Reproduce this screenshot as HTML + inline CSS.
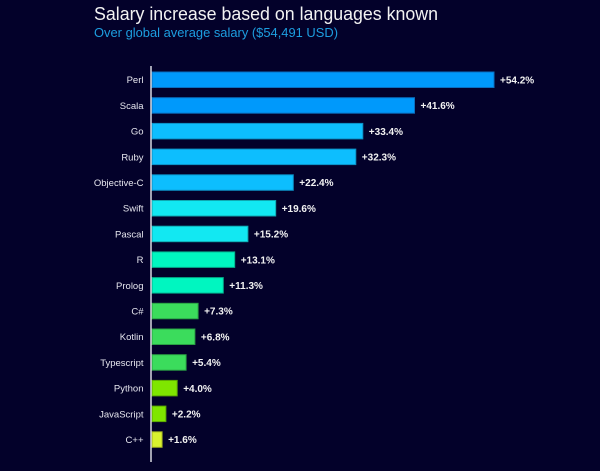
<!DOCTYPE html>
<html><head><meta charset="utf-8"><style>
html,body{margin:0;padding:0;background:#03012a;}
svg{display:block;}
</style></head><body>
<svg width="600" height="471" viewBox="0 0 600 471" xmlns="http://www.w3.org/2000/svg">
<rect x="0" y="0" width="600" height="471" fill="#03012a"/>
<text x="94" y="20" fill="#f2f2f2" font-family="Liberation Sans, sans-serif" font-size="18" textLength="344" lengthAdjust="spacingAndGlyphs">Salary increase based on languages known</text>
<text x="94" y="37" fill="#1d9ee0" font-family="Liberation Sans, sans-serif" font-size="13" textLength="244" lengthAdjust="spacingAndGlyphs">Over global average salary ($54,491 USD)</text>
<g font-family="Liberation Sans, sans-serif" font-size="9.5" fill="#e6e6ee" text-anchor="end">
<text x="143.5" y="83.2">Perl</text>
<text x="143.5" y="108.9">Scala</text>
<text x="143.5" y="134.6">Go</text>
<text x="143.5" y="160.3">Ruby</text>
<text x="143.5" y="186">Objective-C</text>
<text x="143.5" y="211.7">Swift</text>
<text x="143.5" y="237.4">Pascal</text>
<text x="143.5" y="263.1">R</text>
<text x="143.5" y="288.8">Prolog</text>
<text x="143.5" y="314.5">C#</text>
<text x="143.5" y="340.2">Kotlin</text>
<text x="143.5" y="365.9">Typescript</text>
<text x="143.5" y="391.6">Python</text>
<text x="143.5" y="417.3">JavaScript</text>
<text x="143.5" y="443">C++</text>
</g>
<g stroke-width="1">
<rect x="152" y="72" width="342" height="15.5" fill="#0099fb" stroke="#0a6fc0"/>
<rect x="152" y="97.7" width="262.5" height="15.5" fill="#0099fb" stroke="#0a6fc0"/>
<rect x="152" y="123.4" width="210.8" height="15.5" fill="#0dbefe" stroke="#0c8fc4"/>
<rect x="152" y="149.1" width="203.8" height="15.5" fill="#0dbefe" stroke="#0c8fc4"/>
<rect x="152" y="174.8" width="141.3" height="15.5" fill="#0dbefe" stroke="#0c8fc4"/>
<rect x="152" y="200.5" width="123.7" height="15.5" fill="#12e8f2" stroke="#0fa8b0"/>
<rect x="152" y="226.2" width="95.9" height="15.5" fill="#12e8f2" stroke="#0fa8b0"/>
<rect x="152" y="251.9" width="82.7" height="15.5" fill="#00f6c0" stroke="#04b08c"/>
<rect x="152" y="277.6" width="71.3" height="15.5" fill="#00f6c0" stroke="#04b08c"/>
<rect x="152" y="303.3" width="46.1" height="15.5" fill="#3bdc5c" stroke="#2aa044"/>
<rect x="152" y="329" width="42.9" height="15.5" fill="#3bdc5c" stroke="#2aa044"/>
<rect x="152" y="354.7" width="34.1" height="15.5" fill="#3bdc5c" stroke="#2aa044"/>
<rect x="152" y="380.4" width="25.2" height="15.5" fill="#7fe600" stroke="#5aa604"/>
<rect x="152" y="406.1" width="13.9" height="15.5" fill="#7fe600" stroke="#5aa604"/>
<rect x="152" y="431.8" width="10.1" height="15.5" fill="#d9f22e" stroke="#9fb022"/>
</g>
<line x1="151" y1="66" x2="151" y2="462" stroke="#d8d8e0" stroke-width="1.5"/>
<g font-family="Liberation Sans, sans-serif" font-size="10" font-weight="bold" fill="#f2f2f2">
<text x="500" y="83.4">+54.2%</text>
<text x="420.5" y="109.1">+41.6%</text>
<text x="368.8" y="134.8">+33.4%</text>
<text x="361.8" y="160.5">+32.3%</text>
<text x="299.3" y="186.2">+22.4%</text>
<text x="281.7" y="211.9">+19.6%</text>
<text x="253.9" y="237.6">+15.2%</text>
<text x="240.7" y="263.3">+13.1%</text>
<text x="229.3" y="289">+11.3%</text>
<text x="204.1" y="314.7">+7.3%</text>
<text x="200.9" y="340.4">+6.8%</text>
<text x="192.1" y="366.1">+5.4%</text>
<text x="183.2" y="391.8">+4.0%</text>
<text x="171.9" y="417.5">+2.2%</text>
<text x="168.1" y="443.2">+1.6%</text>
</g>
</svg>
</body></html>
